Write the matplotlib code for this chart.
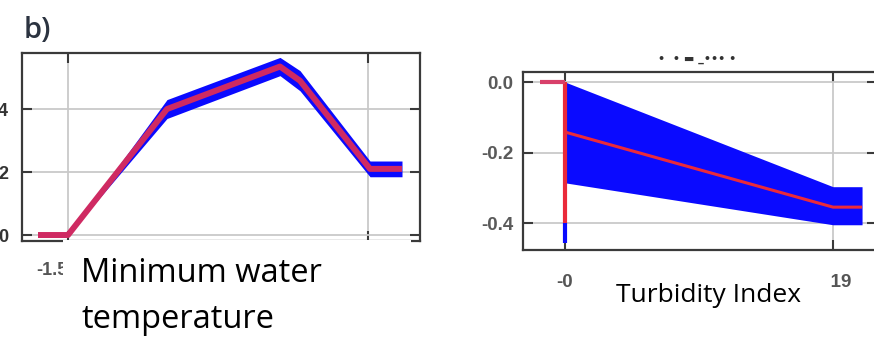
import matplotlib
matplotlib.use('Agg')
import matplotlib.pyplot as plt
from matplotlib.patches import Rectangle

W, H = 874, 337
fig = plt.figure(figsize=(W / 100, H / 100), dpi=100)


def fx(px):
    return px / W


def fy(py):
    return 1 - py / H


# ---------------- data ----------------
# Panel b (left): minimum water temperature partial dependence
temp_x = [-4.5, -1.5, 8.4, 19.7, 21.7, 28.7, 31.9]
temp_mean = [0.0, 0.0, 4.0, 5.35, 4.9, 2.1, 2.1]
temp_upper = [0.0, 0.0, 4.3, 5.64, 5.22, 2.35, 2.35]
temp_lower = [0.0, 0.0, 3.7, 5.06, 4.58, 1.85, 1.85]
temp_xticks = [-1.5, 28.5]
temp_xticklabels = ['-1.5', '28.5']
temp_yticks = [0, 2, 4]
temp_yticklabels = ['0', '2', '4']

# Right panel: turbidity index partial dependence
turb_flat_x = [-0.0177, 0.0]
turb_flat_y = [0.0, 0.0]
turb_jump_x = 0.0
turb_jump_red = (0.0, -0.40)
turb_jump_blue = (-0.40, -0.457)
turb_x = [0.0, 0.19, 0.2106]
turb_mean = [-0.142, -0.355, -0.355]
turb_upper = [0.0, -0.297, -0.297]
turb_lower = [-0.286, -0.405, -0.405]
turb_xticks = [0.0, 0.19]
turb_xticklabels = ['-0', '0.19']
turb_yticks = [0.0, -0.2, -0.4]
turb_yticklabels = ['0.0', '-0.2', '-0.4']

BLUE = '#0a0aff'
RED_L = '#cf2a62'
RED_R = '#ea2a3a'
SPINE = '#3a3a3a'
GRID = '#c9c9c9'
TICKFONT = 'Liberation Sans'


def style(ax, ylab_color, ypad, xpad, size):
    for s in ax.spines.values():
        s.set_color(SPINE)
        s.set_linewidth(1.6)
    ax.grid(True, color=GRID, linewidth=1.3)
    ax.set_axisbelow(True)
    ax.tick_params(direction='in', length=7, width=1.5, color=SPINE,
                   top=True, right=True, labelsize=size)
    ax.tick_params(axis='y', pad=ypad, labelcolor=ylab_color)
    ax.tick_params(axis='x', pad=xpad, labelcolor='#555555')
    for lab in ax.get_xticklabels() + ax.get_yticklabels():
        lab.set_fontfamily(TICKFONT)
        lab.set_fontweight('bold')


# ---------------- left panel ----------------
ax1 = fig.add_axes([fx(22), fy(241), fx(420) - fx(22), fy(53) - fy(241)])
ax1.fill_between(temp_x, temp_lower, temp_upper, color=BLUE, linewidth=0,
                 zorder=2)
ax1.plot(temp_x, temp_mean, color=RED_L, linewidth=4.3, zorder=3,
         solid_capstyle='butt', solid_joinstyle='round')
ax1.set_xlim(-6.1, 33.7)
ax1.set_ylim(-0.19, 5.78)
ax1.set_xticks(temp_xticks)
ax1.set_xticklabels(temp_xticklabels)
ax1.set_yticks(temp_yticks)
ax1.set_yticklabels(temp_yticklabels)
style(ax1, '#333333', 10, 15, 13)
for lab in ax1.get_xticklabels():
    lab.set_horizontalalignment('right')

# ---------------- right panel ----------------
ax2 = fig.add_axes([fx(523), fy(250), fx(877) - fx(523), fy(72) - fy(250)])
ax2.fill_between(turb_x, turb_lower, turb_upper, color=BLUE, linewidth=0,
                 zorder=2)
ax2.vlines(turb_jump_x, *turb_jump_blue, color=BLUE, linewidth=3.0, zorder=3)
ax2.vlines(turb_jump_x, *turb_jump_red, color=RED_R, linewidth=3.0, zorder=4)
ax2.plot(turb_flat_x, turb_flat_y, color='#d8406a', linewidth=3.0, zorder=4,
         solid_capstyle='butt')
ax2.plot(turb_x, turb_mean, color=RED_R, linewidth=2.2, zorder=4,
         solid_capstyle='butt')
ax2.set_xlim(-0.0298, 0.2212)
ax2.set_ylim(-0.4766, 0.0284)
ax2.set_xticks(turb_xticks)
ax2.set_xticklabels(turb_xticklabels)
ax2.set_yticks(turb_yticks)
ax2.set_yticklabels(turb_yticklabels)
style(ax2, '#5a5a5a', 7, 17, 13.5)

# blurred panel title
fig.text(fx(697), fy(59), '\u2022  \u2022 \u25AC _\u2022\u2022\u2022 \u2022',
         ha='center', va='center', fontsize=8, color='#333333',
         family='DejaVu Sans', fontweight='bold')

# panel letter
fig.text(fx(24), fy(38), 'b)', ha='left', va='baseline', fontsize=21,
         color='#2b3340', family='Open Sans', fontweight='semibold')

# white label boxes pasted over the axes
fig.add_artist(Rectangle((fx(63), 0), fx(411) - fx(63), fy(240),
                         transform=fig.transFigure, facecolor='white',
                         edgecolor='none', zorder=5))
fig.add_artist(Rectangle((fx(600), fy(312)), fx(830) - fx(600),
                         fy(265) - fy(312), transform=fig.transFigure,
                         facecolor='white', edgecolor='none', zorder=5))

fig.text(fx(81), fy(274), 'Minimum water', ha='left', va='center',
         fontsize=23.5, family='Open Sans', color='black', zorder=6)
fig.text(fx(81), fy(319), 'temperature', ha='left', va='center',
         fontsize=23.5, family='Open Sans', color='black', zorder=6)
fig.text(fx(708), fy(296), 'Turbidity Index', ha='center', va='center',
         fontsize=19, family='Open Sans', color='black', zorder=6)

fig.savefig('out.png', dpi=100, facecolor='white')
